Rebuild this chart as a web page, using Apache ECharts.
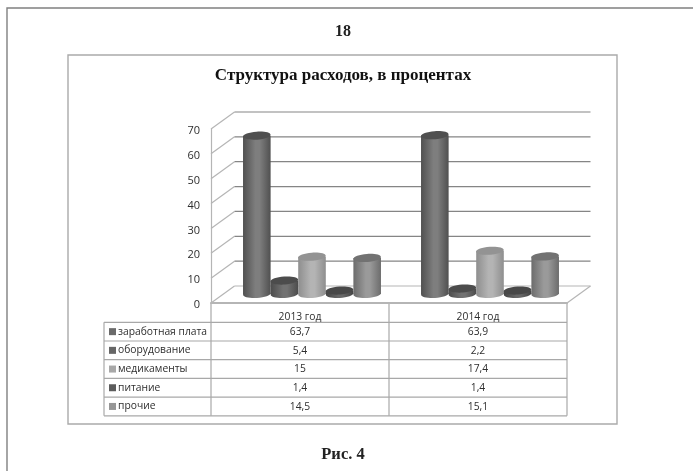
<!DOCTYPE html>
<html>
<head>
<meta charset="utf-8">
<style>
  html, body { margin: 0; padding: 0; background: #fff; }
  #chart { width: 693px; height: 471px; filter: blur(0.55px); }
</style>
<script src="https://cdn.jsdelivr.net/npm/echarts@6/dist/echarts.min.js"></script>
</head>
<body>
<div id="chart"></div>
<script>
const categories = ['2013 год', '2014 год']
const seriesNames = ['заработная плата', 'оборудование', 'медикаменты', 'питание', 'прочие']
const salary = [63.7, 63.9]
const equipment = [5.4, 2.2]
const medicine = [15, 17.4]
const food = [1.4, 1.4]
const other = [14.5, 15.1]
const yTicks = [0, 10, 20, 30, 40, 50, 60, 70]

const seriesValues = [salary, equipment, medicine, food, other]
const edgeColors = ['#505050', '#4c4c4c', '#8e8e8e', '#444444', '#6c6c6c']
const midColors = ['#7e7e7e', '#727272', '#b4b4b4', '#686868', '#9a9a9a']
const capColors = ['#505050', '#4c4c4c', '#939393', '#484848', '#727272']
const keyColors = ['#6a6a6a', '#666666', '#a8a8a8', '#5c5c5c', '#969696']

// plot front plane and table
const plotLeft = 211
const plotRight = 567
const plotTop = 129
const plotBottom = 303
const depthX = 23.5
const depthY = 17
const tableLeft = 104
const tableRowH = 18.7
const tableHeadBottom = 322.3
const uiFont = '"Open Sans", sans-serif'
const serifFont = '"Liberation Serif", serif'

const fmt = v => String(v).replace('.', ',')

function renderWall(params, api) {
  const v = api.value(0)
  const p = api.coord([0, v])
  const y = p[1]
  const back = { stroke: v === 0 ? '#b5b5b5' : '#858585', lineWidth: 1.2, fill: null }
  const children = [
    { type: 'line', shape: { x1: plotLeft, y1: y, x2: plotLeft + depthX, y2: y - depthY }, style: { stroke: '#b5b5b5', lineWidth: 1.2 } },
    { type: 'line', shape: { x1: plotLeft + depthX, y1: y - depthY, x2: plotRight + depthX, y2: y - depthY }, style: back }
  ]
  if (v === 0) {
    children.push({ type: 'line', shape: { x1: plotRight, y1: y, x2: plotRight + depthX, y2: y - depthY }, style: { stroke: '#b5b5b5', lineWidth: 1.2 } })
  }
  return { type: 'group', children: children }
}

function renderCylinder(s) {
  return function(params, api) {
    const base = api.coord([api.value(0), 0])
    const top = api.coord([api.value(0), api.value(1)])
    const bw = api.size([1, 0])[0] * 0.155
    const cx = base[0] + 12 + (s - 2) * bw
    const yBase = base[1] - 9
    const yTop = top[1] - 9
    const rx = bw / 2
    const ry = 4
    const grad = new echarts.graphic.LinearGradient(0, 0, 1, 0, [
      { offset: 0, color: edgeColors[s] },
      { offset: 0.45, color: midColors[s] },
      { offset: 0.6, color: midColors[s] },
      { offset: 1, color: edgeColors[s] }
    ])
    return {
      type: 'group',
      children: [
        { type: 'rect', shape: { x: cx - rx, y: yTop, width: rx * 2, height: yBase - yTop }, style: { fill: grad } },
        { type: 'ellipse', shape: { cx: cx, cy: yBase, rx: rx, ry: ry }, rotation: 0.05, originX: cx, originY: yBase, style: { fill: grad } },
        { type: 'ellipse', shape: { cx: cx, cy: yTop, rx: rx, ry: ry }, rotation: 0.07, originX: cx, originY: yTop, style: { fill: capColors[s] } }
      ]
    }
  }
}

// data table, filled from the arrays above
function tableGraphics() {
  const out = []
  const bandW = (plotRight - plotLeft) / categories.length
  const tableBottom = tableHeadBottom + tableRowH * seriesNames.length
  const line = (x1, y1, x2, y2) => ({
    type: 'line', silent: true,
    shape: { x1: x1, y1: y1, x2: x2, y2: y2 },
    style: { stroke: '#a8a8a8', lineWidth: 1.2 }
  })
  const text = (x, y, t, align) => ({
    type: 'text', silent: true, x: x, y: y,
    style: { text: t, fill: '#2e2e2e', font: '10.3px ' + uiFont, textAlign: align, textVerticalAlign: 'middle' }
  })
  for (let i = 0; i <= seriesNames.length; i++) {
    const y = tableHeadBottom + tableRowH * i
    out.push(line(tableLeft, y, plotRight, y))
  }
  out.push(line(tableLeft, tableHeadBottom, tableLeft, tableBottom))
  for (let c = 0; c <= categories.length; c++) {
    const x = plotLeft + bandW * c
    out.push(line(x, plotBottom, x, tableBottom))
  }
  seriesNames.forEach((name, r) => {
    const y = tableHeadBottom + tableRowH * (r + 0.5)
    out.push({ type: 'rect', silent: true, shape: { x: 109, y: y - 3.5, width: 7, height: 7 }, style: { fill: keyColors[r] } })
    out.push(text(118, y, name, 'left'))
    categories.forEach((cat, c) => {
      out.push(text(plotLeft + bandW * (c + 0.5), y + 0.5, fmt(seriesValues[r][c]), 'center'))
    })
  })
  return out
}

const chart = echarts.init(document.getElementById('chart'))

const series = [
  {
    type: 'custom',
    silent: true,
    coordinateSystem: 'cartesian2d',
    renderItem: renderWall,
    data: yTicks.map(v => [v]),
    encode: { y: 0 },
    z: 1
  }
]
seriesNames.forEach((name, s) => {
  series.push({
    name: name,
    type: 'custom',
    coordinateSystem: 'cartesian2d',
    renderItem: renderCylinder(s),
    data: categories.map((c, i) => [i, seriesValues[s][i]]),
    encode: { x: 0, y: 1 },
    z: 2
  })
})

chart.setOption({
  animation: false,
  backgroundColor: '#fff',
  title: [
    { text: 'Структура расходов, в процентах', left: 343, top: 67, textAlign: 'center', padding: 0, textStyle: { fontFamily: serifFont, fontSize: 17, fontWeight: 'bold', color: '#111' } },
    { text: '18', left: 343, top: 24, textAlign: 'center', padding: 0, textStyle: { fontFamily: serifFont, fontSize: 16, fontWeight: 'bold', color: '#222' } },
    { text: 'Рис. 4', left: 343, top: 446, textAlign: 'center', padding: 0, textStyle: { fontFamily: serifFont, fontSize: 16.5, fontWeight: 'bold', color: '#222' } }
  ],
  grid: { left: plotLeft, right: 693 - plotRight, top: plotTop, bottom: 471 - plotBottom },
  xAxis: {
    type: 'category',
    data: categories,
    axisLine: { lineStyle: { color: '#b5b5b5', width: 2 } },
    axisTick: { show: false },
    axisLabel: { color: '#2e2e2e', fontFamily: uiFont, fontSize: 10.3, margin: 9 }
  },
  yAxis: {
    type: 'value',
    min: 0,
    max: 70,
    interval: 10,
    axisLine: { show: true, lineStyle: { color: '#b5b5b5', width: 1.2 } },
    axisTick: { show: false },
    splitLine: { show: false },
    axisLabel: { color: '#2e2e2e', fontFamily: uiFont, fontSize: 11, margin: 11, verticalAlign: 'top', lineHeight: 4 }
  },
  series: series,
  graphic: [
    // page frame
    { type: 'polyline', silent: true, shape: { points: [[7, 471], [7, 8], [693, 8]] }, style: { stroke: '#808080', lineWidth: 1.4, fill: null } },
    // chart frame
    { type: 'rect', silent: true, shape: { x: 68, y: 55, width: 549, height: 369 }, style: { stroke: '#aaa', lineWidth: 1.4, fill: null } }
  ].concat(tableGraphics())
})
</script>
</body>
</html>
